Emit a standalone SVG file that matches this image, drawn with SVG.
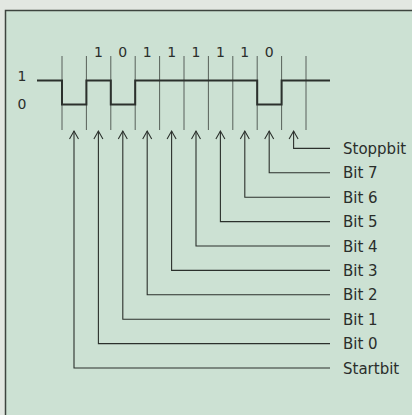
<svg xmlns="http://www.w3.org/2000/svg" width="412" height="415" viewBox="0 0 412 415">
<style>
.lbl{font-family:"DejaVu Sans","Liberation Sans",sans-serif;font-size:15px;fill:#2a2e2b}
.dig{font-family:"DejaVu Sans","Liberation Sans",sans-serif;font-size:14px;fill:#2a2e2b;text-anchor:middle}
.div{stroke:#4a514c;stroke-width:0.9;fill:none}
.wave{stroke:#2b302c;stroke-width:2;fill:none}
.conn{stroke:#2b302c;stroke-width:1.1;fill:none;marker-start:url(#arr)}
</style>
<defs>
<marker id="arr" markerUnits="userSpaceOnUse" markerWidth="14" markerHeight="14" refX="0" refY="0" viewBox="-10 -7 12 14" orient="auto-start-reverse" overflow="visible">
<path d="M-8,-4.5 L0,0 L-8,4.5" fill="none" stroke="#2b302c" stroke-width="1.1"/>
</marker>
</defs>
<rect x="0" y="0" width="412" height="415" fill="#e2e7e1"/>
<rect x="5" y="10" width="407" height="405" fill="#cce1d3"/>
<path d="M5.5,415 V10.5 H412" fill="none" stroke="#3d443f" stroke-width="1.5"/>

<g id="levels">
<text class="dig" x="22" y="81">1</text>
<text class="dig" x="22" y="109">0</text>
</g>

<g id="bitvalues">
<text class="dig" x="98.4" y="57">1</text>
<text class="dig" x="122.8" y="57">0</text>
<text class="dig" x="147.2" y="57">1</text>
<text class="dig" x="171.6" y="57">1</text>
<text class="dig" x="196" y="57">1</text>
<text class="dig" x="220.4" y="57">1</text>
<text class="dig" x="244.8" y="57">1</text>
<text class="dig" x="269.2" y="57">0</text>
</g>

<g id="dividers">
<path class="div" d="M62,56V130 M86.4,56V130 M110.8,56V130 M135.2,56V130 M159.6,56V130 M184,56V130 M208.4,56V130 M232.8,56V130 M257.2,56V130 M281.6,56V130 M306,56V130"/>
</g>

<g id="waveform">
<path class="wave" d="M37,80.5 H62 V104.5 H86.4 V80.5 H110.8 V104.5 H135.2 V80.5 H257.2 V104.5 H281.6 V80.5 H330"/>
</g>

<g id="connectors">
<path class="conn" d="M74,131 V368 H330"/>
<path class="conn" d="M98.4,131 V343.6 H330"/>
<path class="conn" d="M122.8,131 V319.2 H330"/>
<path class="conn" d="M147.2,131 V294.8 H330"/>
<path class="conn" d="M171.6,131 V270.4 H330"/>
<path class="conn" d="M196,131 V246 H330"/>
<path class="conn" d="M220.4,131 V221.6 H330"/>
<path class="conn" d="M244.8,131 V197.2 H330"/>
<path class="conn" d="M269.2,131 V172.8 H330"/>
<path class="conn" d="M293.6,131 V148.4 H330"/>
</g>

<g id="startbit"><text class="lbl" x="343" y="373.5">Startbit</text></g>
<g id="bit0"><text class="lbl" x="343" y="349">Bit 0</text></g>
<g id="bit1"><text class="lbl" x="343" y="324.7">Bit 1</text></g>
<g id="bit2"><text class="lbl" x="343" y="300.3">Bit 2</text></g>
<g id="bit3"><text class="lbl" x="343" y="275.9">Bit 3</text></g>
<g id="bit4"><text class="lbl" x="343" y="251.5">Bit 4</text></g>
<g id="bit5"><text class="lbl" x="343" y="227.1">Bit 5</text></g>
<g id="bit6"><text class="lbl" x="343" y="202.7">Bit 6</text></g>
<g id="bit7"><text class="lbl" x="343" y="178.3">Bit 7</text></g>
<g id="stoppbit"><text class="lbl" x="343" y="153.9">Stoppbit</text></g>
</svg>
